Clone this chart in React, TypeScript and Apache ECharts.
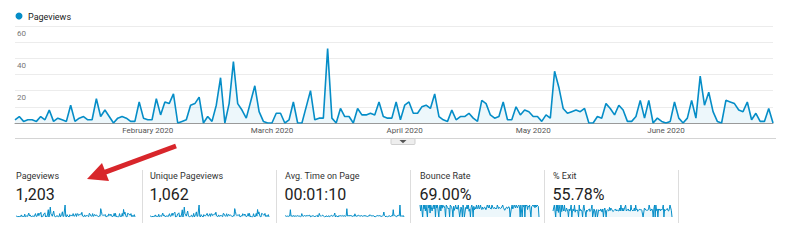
import React, { useEffect, useRef } from "react";
import * as echarts from "echarts";

// ---------- data ----------
const DAY_COUNT = 178; // Jan 1 2020 .. Jun 26 2020
const monthNames = ["January", "February", "March", "April", "May", "June"];
const yTickLabels = [20, 40, 60];

const pageviews = [
  2, 4, 1, 2, 2, 1, 4, 2, 8, 1, 3, 2, 1, 11, 1, 3, 4, 2, 2, 15, 4, 8, 4, 0, 3, 4, 3, 1, 1, 13, 3, 2, 2, 15, 5,
  13, 12, 18, 0, 1, 2, 11, 12, 16, 0, 4, 1, 11, 28, 0, 12, 38, 12, 8, 3, 13, 23, 7, 1, 0, 0, 6, 6, 0, 2, 13, 0, 0, 10, 20,
  2, 3, 3, 46, 3, 0, 9, 4, 4, 0, 9, 5, 5, 6, 5, 13, 4, 3, 3, 13, 2, 11, 13, 6, 6, 10, 11, 9, 18, 4, 2, 1, 8, 2, 4,
  4, 6, 3, 1, 14, 12, 5, 3, 4, 13, 2, 2, 10, 5, 8, 7, 4, 4, 1, 5, 3, 32, 22, 9, 6, 7, 8, 7, 9, 0, 0, 4, 3, 12, 9, 5,
  11, 8, 1, 1, 4, 14, 3, 14, 0, 3, 1, 0, 1, 13, 3, 0, 3, 14, 3, 29, 11, 19, 7, 1, 0, 14, 13, 12, 8, 7, 13, 2, 6, 1, 1, 9, 0,
];

const uniquePageviews = [
  2, 3, 1, 2, 2, 1, 4, 2, 7, 1, 3, 2, 1, 9, 1, 3, 4, 2, 2, 13, 4, 7, 4, 0, 3, 4, 3, 1, 1, 11, 3, 2, 2, 13, 5,
  11, 11, 16, 0, 1, 2, 10, 11, 14, 0, 4, 1, 10, 24, 0, 11, 33, 11, 7, 3, 12, 20, 6, 1, 0, 0, 5, 6, 0, 2, 12, 0, 0, 9, 17,
  2, 3, 3, 40, 3, 0, 8, 4, 4, 0, 8, 5, 4, 5, 5, 12, 4, 3, 3, 11, 2, 10, 11, 5, 6, 9, 10, 8, 16, 4, 2, 1, 7, 2, 4,
  4, 5, 3, 1, 12, 11, 5, 3, 4, 11, 2, 2, 9, 5, 7, 6, 4, 4, 1, 5, 3, 28, 19, 8, 5, 6, 7, 6, 8, 0, 0, 4, 3, 11, 8, 5,
  10, 7, 1, 1, 4, 12, 3, 12, 0, 3, 1, 0, 1, 11, 3, 0, 3, 12, 3, 25, 10, 17, 6, 1, 0, 12, 11, 11, 7, 6, 12, 2, 5, 1, 1, 8, 0,
];

const avgTimeOnPage = [
  45, 60, 30, 55, 40, 20, 70, 50, 365, 35, 60, 45, 25, 80, 30, 55, 65, 40, 50, 70, 45, 60, 50, 0, 40, 170, 55, 30, 25, 75, 60, 45, 40, 80, 55,
  70, 65, 90, 0, 30, 40, 60, 75, 85, 0, 50, 30, 65, 90, 0, 60, 180, 70, 55, 40, 75, 95, 50, 30, 0, 0, 45, 60, 0, 35, 70, 0, 0, 60, 85,
  40, 50, 55, 90, 200, 0, 65, 45, 50, 0, 70, 55, 60, 65, 50, 80, 50, 40, 45, 75, 30, 60, 415, 55, 60, 70, 75, 60, 95, 45, 35, 30, 60, 40, 160,
  50, 55, 40, 30, 85, 80, 55, 45, 50, 75, 35, 30, 60, 50, 65, 60, 45, 50, 25, 55, 40, 110, 90, 60, 55, 60, 65, 60, 70, 0, 0, 50, 45, 75, 60, 55,
  70, 60, 30, 25, 45, 80, 250, 75, 50, 0, 40, 20, 0, 30, 75, 40, 0, 45, 80, 45, 365, 70, 85, 60, 30, 0, 75, 70, 80, 65, 600, 35, 55, 30, 25, 70, 0,
];

const bounceRate = [
  100, 50, 100, 100, 0, 100, 67, 100, 50, 100, 100, 0, 100, 75, 100, 33, 100, 100, 50, 80, 100, 67, 100, 0, 100, 75, 100, 100, 0, 85, 100, 50, 100, 73, 100,
  85, 90, 70, 0, 100, 100, 80, 67, 75, 0, 100, 100, 82, 60, 0, 90, 55, 75, 100, 67, 80, 65, 100, 100, 0, 0, 83, 67, 0, 100, 77, 0, 0, 80, 70,
  100, 67, 100, 48, 67, 0, 78, 100, 75, 0, 89, 60, 80, 67, 100, 69, 75, 100, 67, 77, 100, 73, 62, 83, 67, 70, 82, 78, 61, 75, 100, 100, 75, 100, 75,
  75, 67, 100, 100, 71, 75, 80, 67, 75, 69, 100, 100, 70, 80, 75, 71, 75, 75, 100, 80, 67, 56, 64, 78, 83, 71, 75, 86, 78, 0, 0, 75, 100, 67, 78, 100,
  100, 75, 100, 100, 75, 93, 100, 86, 0, 100, 100, 0, 100, 85, 100, 0, 100, 93, 100, 62, 91, 84, 100, 100, 0, 86, 92, 100, 88, 100, 77, 100, 83, 100, 100, 89, 0,
];

const exitRate = [
  50, 50, 100, 50, 0, 100, 50, 100, 38, 100, 67, 0, 100, 45, 100, 67, 50, 100, 50, 47, 75, 63, 50, 0, 67, 50, 67, 100, 0, 54, 67, 50, 100, 40, 60,
  54, 58, 44, 0, 100, 50, 64, 58, 50, 0, 75, 100, 55, 43, 0, 58, 47, 58, 63, 67, 46, 52, 71, 100, 0, 0, 67, 50, 0, 50, 62, 0, 0, 60, 55,
  50, 67, 67, 41, 67, 0, 56, 75, 50, 0, 56, 60, 60, 50, 80, 54, 75, 67, 67, 46, 50, 55, 54, 67, 50, 60, 55, 56, 50, 75, 50, 100, 63, 50, 75,
  50, 67, 67, 100, 50, 58, 60, 67, 50, 54, 50, 100, 60, 60, 50, 57, 75, 50, 100, 60, 67, 47, 55, 56, 67, 57, 63, 57, 56, 0, 0, 75, 67, 58, 56, 60,
  55, 63, 100, 100, 50, 57, 67, 57, 0, 67, 100, 0, 100, 54, 67, 0, 67, 57, 67, 52, 64, 58, 71, 100, 0, 64, 54, 58, 63, 71, 54, 50, 67, 100, 100, 56, 0,
];

const cardLabels = ["Pageviews", "Unique Pageviews", "Avg. Time on Page", "Bounce Rate", "% Exit"];
const cardValues = ["1,203", "1,062", "00:01:10", "69.00%", "55.78%"];
const legendLabel = "Pageviews";

// ---------- layout ----------
const FONT = "Roboto, Arial, sans-serif";
const BLUE = "#058dc7";
const FILL = "rgba(5,141,199,0.1)";
const cardX = [16, 150, 285, 420, 553];
const sepX = [142.5, 276.5, 410.5, 544.5, 678.5];
const SPARK_W = 119;

function buildDates(): string[] {
  const out: string[] = [];
  for (let i = 0; i < DAY_COUNT; i++) {
    const dt = new Date(Date.UTC(2020, 0, 1 + i));
    out.push(dt.toISOString().slice(0, 10));
  }
  return out;
}

export default function App() {
  const ref = useRef<HTMLDivElement>(null);

  useEffect(() => {
    document.body.style.margin = "0";
    if (!ref.current) return;
    const chart = echarts.init(ref.current, null, { renderer: "svg" });
    const dates = buildDates();
    const sparkData = [pageviews, uniquePageviews, avgTimeOnPage, bounceRate, exitRate];

    const grids: any[] = [{ left: 15, top: 26, width: 758, height: 97 }];
    cardX.forEach((x) => grids.push({ left: x, top: 205, width: SPARK_W, height: 12 }));

    const xAxes: any[] = [
      {
        type: "category",
        gridIndex: 0,
        data: dates,
        boundaryGap: false,
        axisLine: { lineStyle: { color: "#9a9a9a", width: 1 } },
        axisTick: { show: false },
        splitLine: { show: false },
        axisLabel: {
          interval: (_i: number, v: string) => v.endsWith("-01") && !v.startsWith("2020-01"),
          formatter: (v: string) => monthNames[parseInt(v.slice(5, 7), 10) - 1] + " " + v.slice(0, 4),
          fontSize: 8,
          fontFamily: FONT,
          color: "#555",
          margin: 3,
        },
      },
    ];
    const yAxes: any[] = [
      {
        type: "value",
        gridIndex: 0,
        min: 0,
        max: 60,
        interval: 10,
        axisLine: { show: false },
        axisTick: { show: false },
        splitLine: { lineStyle: { color: "#ececec", width: 1 } },
        axisLabel: {
          inside: true,
          margin: 2,
          align: "left",
          verticalAlign: "top",
          padding: [3, 0, 0, 0],
          fontSize: 8,
          fontFamily: FONT,
          color: "#777",
          formatter: (v: number) => (yTickLabels.includes(v) ? String(v) : ""),
        },
      },
    ];
    const series: any[] = [
      {
        type: "line",
        xAxisIndex: 0,
        yAxisIndex: 0,
        data: pageviews,
        showSymbol: false,
        symbol: "none",
        lineStyle: { color: BLUE, width: 1.6 },
        areaStyle: { color: FILL },
      },
    ];

    sparkData.forEach((d, i) => {
      xAxes.push({ type: "category", gridIndex: i + 1, data: dates, boundaryGap: false, show: false });
      yAxes.push({ type: "value", gridIndex: i + 1, min: 0, max: "dataMax", show: false, splitLine: { show: false } });
      series.push({
        type: "line",
        xAxisIndex: i + 1,
        yAxisIndex: i + 1,
        data: d,
        symbol: "none",
        lineStyle: { color: BLUE, width: 1 },
        areaStyle: { color: FILL },
      });
    });

    const graphics: any[] = [
      { type: "circle", shape: { cx: 19, cy: 16, r: 3.5 }, style: { fill: BLUE } },
      {
        type: "text",
        x: 28,
        y: 16.5,
        style: { text: legendLabel, fontSize: 9, fontFamily: FONT, fill: "#222", verticalAlign: "middle" },
      },
      { type: "line", shape: { x1: 15, y1: 138.5, x2: 776, y2: 138.5 }, style: { stroke: "#d4d4d4", lineWidth: 1 } },
      { type: "rect", shape: { x: 391, y: 138.5, width: 24, height: 6, r: 1 }, style: { fill: "#eeeeee", stroke: "#cfcfcf", lineWidth: 1 } },
      { type: "polygon", shape: { points: [[399.5, 140], [406.5, 140], [403, 143.2]] }, style: { fill: "#555" } },
    ];
    sepX.forEach((x) =>
      graphics.push({ type: "line", shape: { x1: x, y1: 170, x2: x, y2: 223 }, style: { stroke: "#dddddd", lineWidth: 1 } })
    );
    cardX.forEach((x, i) => {
      graphics.push({
        type: "text",
        x: x,
        y: 176,
        style: { text: cardLabels[i], fontSize: 9, fontFamily: FONT, fill: "#333", verticalAlign: "middle" },
      });
      graphics.push({
        type: "text",
        x: x - 0.5,
        y: 194,
        style: { text: cardValues[i], fontSize: 16, fontFamily: FONT, fill: "#222", verticalAlign: "middle" },
      });
    });
    // red arrow
    graphics.push({
      type: "line",
      shape: { x1: 176, y1: 146, x2: 104, y2: 172.7 },
      style: { stroke: "#d8262b", lineWidth: 5, lineCap: "butt" },
    });
    graphics.push({
      type: "polygon",
      shape: { points: [[87, 179], [109, 181], [102, 163]] },
      style: { fill: "#d8262b" },
    });

    chart.setOption({
      animation: false,
      backgroundColor: "#ffffff",
      grid: grids,
      xAxis: xAxes,
      yAxis: yAxes,
      series: series,
      graphic: graphics,
    });

    return () => chart.dispose();
  }, []);

  return <div ref={ref} style={{ width: 800, height: 250 }} />;
}
